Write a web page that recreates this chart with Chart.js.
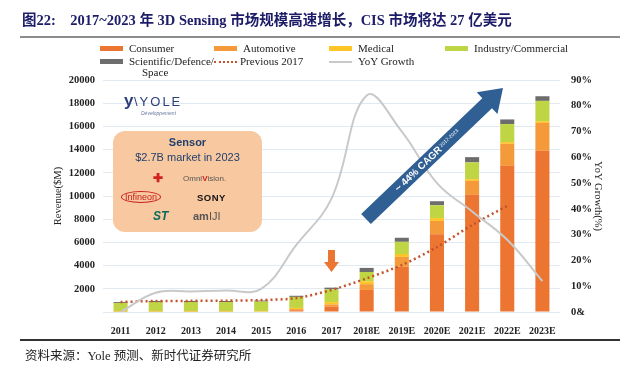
<!DOCTYPE html>
<html>
<head>
<meta charset="utf-8">
<script src="https://cdn.jsdelivr.net/npm/chart.js@4.4.1/dist/chart.umd.min.js"></script>
<style>
  body { margin: 0; background: #fff; }
  #wrap { position: relative; width: 642px; height: 368px; overflow: hidden; font-family: 'Liberation Serif', 'Noto Sans CJK SC', serif; }
  #chart { position: absolute; left: 0; top: 0; }
  .abs { position: absolute; white-space: nowrap; }
  #title { left: 22px; top: 8px; font-size: 14.5px; font-weight: bold; color: #1c1c68; }
  #topline { left: 20px; top: 36px; width: 600px; height: 2px; background: #8c8c8c; }
  #botline { left: 20px; top: 339px; width: 600px; height: 1.5px; background: #333; }
  #source { left: 25px; top: 345px; font-size: 12.5px; color: #222; }
  .lg { position: absolute; font-size: 11px; color: #222; line-height: 11px; }
  .sw { position: absolute; width: 23px; height: 5px; }
  #sensor { left: 113px; top: 131px; width: 149px; height: 101px; background: #f8c8a0; border-radius: 12px; }
  .logo { position: absolute; font-family: 'Liberation Sans', sans-serif; }
</style>
</head>
<body>
<div id="wrap">
  <canvas id="chart" width="642" height="368"></canvas>
  <div id="title" class="abs">图22:&nbsp;&nbsp;&nbsp;&nbsp;2017~2023 年 3D Sensing 市场规模高速增长，CIS 市场将达 27 亿美元</div>
  <div id="topline" class="abs"></div>
  <div id="legend"></div>
  <div class="abs" style="left:124px;top:91px;font-family:'Liberation Sans',sans-serif;color:#2a3f7a;font-size:17px;font-weight:bold;">y</div>
  <div class="abs" style="left:134px;top:94px;font-family:'Liberation Sans',sans-serif;color:#2a3f7a;font-size:13px;letter-spacing:2px;">\YOLE</div>
  <div class="abs" style="left:141px;top:110px;font-family:'Liberation Sans',sans-serif;color:#6a7aa0;font-size:5px;font-style:italic;">Développement</div>
  <div id="sensor" class="abs">
    <div class="logo" style="left:0;width:149px;top:5px;text-align:center;font-weight:bold;font-size:11px;color:#22406e;">Sensor</div>
    <div class="logo" style="left:0;width:149px;top:20px;text-align:center;font-size:11px;color:#22406e;">$2.7B market in 2023</div>
    <div class="logo" style="left:40px;top:40px;font-size:12px;font-weight:bold;color:#d2231e;">✚</div>
    <div class="logo" style="left:70px;top:43px;font-size:8px;color:#555;">Omni<span style="color:#c8201a;font-weight:bold;">V</span>ision.</div>
    <div class="logo" style="left:8px;top:60px;font-size:9px;color:#c8201a;border:1px solid #c8201a;border-radius:50%;padding:0 3px;">Infineon</div>
    <div class="logo" style="left:84px;top:61px;font-size:9.5px;font-weight:bold;color:#111;letter-spacing:0.5px;">SONY</div>
    <div class="logo" style="left:40px;top:78px;font-size:12px;font-weight:bold;font-style:italic;color:#0d6a5b;">ST</div>
    <div class="logo" style="left:80px;top:79px;font-size:11px;font-weight:bold;color:#555;">am<span style="font-weight:normal;">IJI</span></div>
  </div>
  <div id="botline" class="abs"></div>
  <div id="source" class="abs">资料来源：Yole 预测、新时代证券研究所</div>
</div>
<script>
// categories and values
const years = ['2011', '2012', '2013', '2014', '2015', '2016', '2017', '2018E', '2019E', '2020E', '2021E', '2022E', '2023E'];
const consumer   = [0, 0, 0, 0, 0, 150, 450, 1900, 3900, 6700, 10100, 12600, 13900];
const automotive = [20, 20, 20, 20, 30, 100, 200, 500, 850, 1150, 1200, 1900, 2400];
const medical    = [40, 40, 40, 40, 40, 100, 200, 250, 250, 250, 150, 150, 150];
const industrial = [720, 800, 800, 800, 830, 950, 1100, 800, 1050, 1100, 1450, 1550, 1750];
const scientific = [80, 90, 90, 90, 90, 100, 150, 350, 350, 350, 450, 400, 400];
const previous2017 = [860, 950, 960, 980, 1030, 1200, 1900, 2900, 4050, 5600, 7500, 9150, null];
const yoyGrowth = [0, 7.5, 8, 8.3, 9, 26, 44, 84, 70, 50, 39, 28, 12];
const revenueTicks = [2000, 4000, 6000, 8000, 10000, 12000, 14000, 16000, 18000, 20000];
const growthTicks = ['0&', '10%', '20%', '30%', '40%', '50%', '60%', '70%', '80%', '90%'];

const colors = {
    consumer: '#ed7532',
    automotive: '#f49a3a',
    medical: '#ffc527',
    industrial: '#bfd544',
    scientific: '#6d6d6d',
    previous: '#c4522c',
    yoy: '#c9c9c9'
};

function barSet(label, data, color) {
    return {
        type: 'bar', label: label, data: data, backgroundColor: color,
        yAxisID: 'y', order: 2, barPercentage: 0.4, categoryPercentage: 1
    };
}

// arrows and annotations drawn on top of the chart
const arrowsPlugin = {
    id: 'arrows',
    afterDatasetsDraw(chart) {
        const ctx = chart.ctx;
        const x = chart.scales.x;

        // orange arrow over 2017
        const ax = x.getPixelForValue(6);
        ctx.save();
        ctx.fillStyle = colors.consumer;
        ctx.beginPath();
        ctx.moveTo(ax - 3.5, 250);
        ctx.lineTo(ax + 3.5, 250);
        ctx.lineTo(ax + 3.5, 262);
        ctx.lineTo(ax + 7.5, 262);
        ctx.lineTo(ax, 272);
        ctx.lineTo(ax - 7.5, 262);
        ctx.lineTo(ax - 3.5, 262);
        ctx.closePath();
        ctx.fill();

        // CAGR arrow
        const sx = 366, sy = 219, ex = 503, ey = 88;
        const ang = Math.atan2(ey - sy, ex - sx);
        const len = Math.hypot(ex - sx, ey - sy);
        ctx.translate(sx, sy);
        ctx.rotate(ang);
        ctx.fillStyle = '#2f5f93';
        ctx.beginPath();
        ctx.moveTo(0, -7);
        ctx.lineTo(len - 22, -7);
        ctx.lineTo(len - 22, -15);
        ctx.lineTo(len, 0);
        ctx.lineTo(len - 22, 15);
        ctx.lineTo(len - 22, 7);
        ctx.lineTo(0, 7);
        ctx.closePath();
        ctx.fill();
        ctx.fillStyle = '#fff';
        ctx.textBaseline = 'middle';
        ctx.font = 'bold 10px "Liberation Sans", sans-serif';
        ctx.fillText('~ 44% CAGR', 42, 0.5);
        ctx.font = '5px "Liberation Sans", sans-serif';
        ctx.fillText('2017-2023', 104, -1);
        ctx.restore();
    }
};

const chart = new Chart(document.getElementById('chart'), {
    data: {
        labels: years,
        datasets: [
            barSet('Consumer', consumer, colors.consumer),
            barSet('Automotive', automotive, colors.automotive),
            barSet('Medical', medical, colors.medical),
            barSet('Industry/Commercial', industrial, colors.industrial),
            barSet('Scientific/Defence/Space', scientific, colors.scientific),
            {
                type: 'line', label: 'Previous 2017', data: previous2017,
                borderColor: colors.previous, borderWidth: 2.5, borderDash: [2, 3],
                pointRadius: 0, tension: 0.3, yAxisID: 'y', order: 1, stack: 'prev'
            },
            {
                type: 'line', label: 'YoY Growth', data: yoyGrowth,
                borderColor: colors.yoy, borderWidth: 2,
                pointRadius: 0, tension: 0.4, yAxisID: 'y1', order: 0
            }
        ]
    },
    options: {
        responsive: false,
        animation: false,
        layout: { padding: { left: 48, right: 36, top: 80, bottom: 30 } },
        plugins: { legend: { display: false }, tooltip: { enabled: false } },
        scales: {
            x: {
                stacked: true,
                grid: { display: false },
                border: { display: false },
                ticks: {
                    color: '#222', padding: 5, maxRotation: 0, autoSkip: false,
                    font: { family: 'Liberation Serif', size: 10, weight: 'bold' }
                },
                afterFit(scale) { scale.height = 26; }
            },
            y: {
                stacked: true, min: 0, max: 20000,
                grid: { color: '#e1e9f3', drawTicks: false },
                border: { display: false },
                ticks: {
                    stepSize: 1000, padding: 8, color: '#222',
                    font: { family: 'Liberation Serif', size: 10.5, weight: 'bold' },
                    callback: v => revenueTicks.includes(v) ? String(v) : ''
                },
                title: {
                    display: true, text: 'Revenue($M)', color: '#222',
                    font: { family: 'Liberation Serif', size: 10.5 }
                },
                afterFit(scale) { scale.width = 55; }
            },
            y1: {
                position: 'right', min: 0, max: 90,
                grid: { display: false },
                border: { display: false },
                ticks: {
                    stepSize: 10, padding: 3, color: '#222',
                    font: { family: 'Liberation Serif', size: 10.5, weight: 'bold' },
                    callback: v => growthTicks[Math.round(v / 10)]
                },
                title: {
                    display: true, text: 'YoY Growth(%)', color: '#222',
                    padding: { top: 2, bottom: 2 },
                    font: { family: 'Liberation Serif', size: 10.5 }
                },
                afterFit(scale) { scale.width = 46; }
            }
        }
    },
    plugins: [arrowsPlugin]
});

// legend laid out like the original, built from the dataset labels and colours
const legendSpots = [
    [100, 43], [214, 43], [329, 43], [445, 43],
    [100, 56], [214, 56], [329, 56]
];
const legend = document.getElementById('legend');
chart.data.datasets.forEach((ds, i) => {
    const [lx, ly] = legendSpots[i];
    const sw = document.createElement('div');
    sw.className = 'sw';
    sw.style.left = lx + 'px';
    sw.style.top = (ly + 3) + 'px';
    if (ds.type === 'line' && ds.borderDash) {
        sw.style.height = '0';
        sw.style.borderTop = '2px dotted ' + ds.borderColor;
        sw.style.top = (ly + 5) + 'px';
    } else if (ds.type === 'line') {
        sw.style.height = '2px';
        sw.style.top = (ly + 5) + 'px';
        sw.style.background = ds.borderColor;
    } else {
        sw.style.background = ds.backgroundColor;
    }
    legend.appendChild(sw);
    const tx = document.createElement('div');
    tx.className = 'lg';
    tx.style.left = (lx + (ds.type === 'line' && ds.borderDash ? 26 : 29)) + 'px';
    tx.style.top = ly + 'px';
    if (ds.label === 'Scientific/Defence/Space') {
        tx.innerHTML = 'Scientific/Defence/<br><span style="padding-left:13px">Space</span>';
    } else {
        tx.textContent = ds.label;
    }
    legend.appendChild(tx);
});
</script>
</body>
</html>
